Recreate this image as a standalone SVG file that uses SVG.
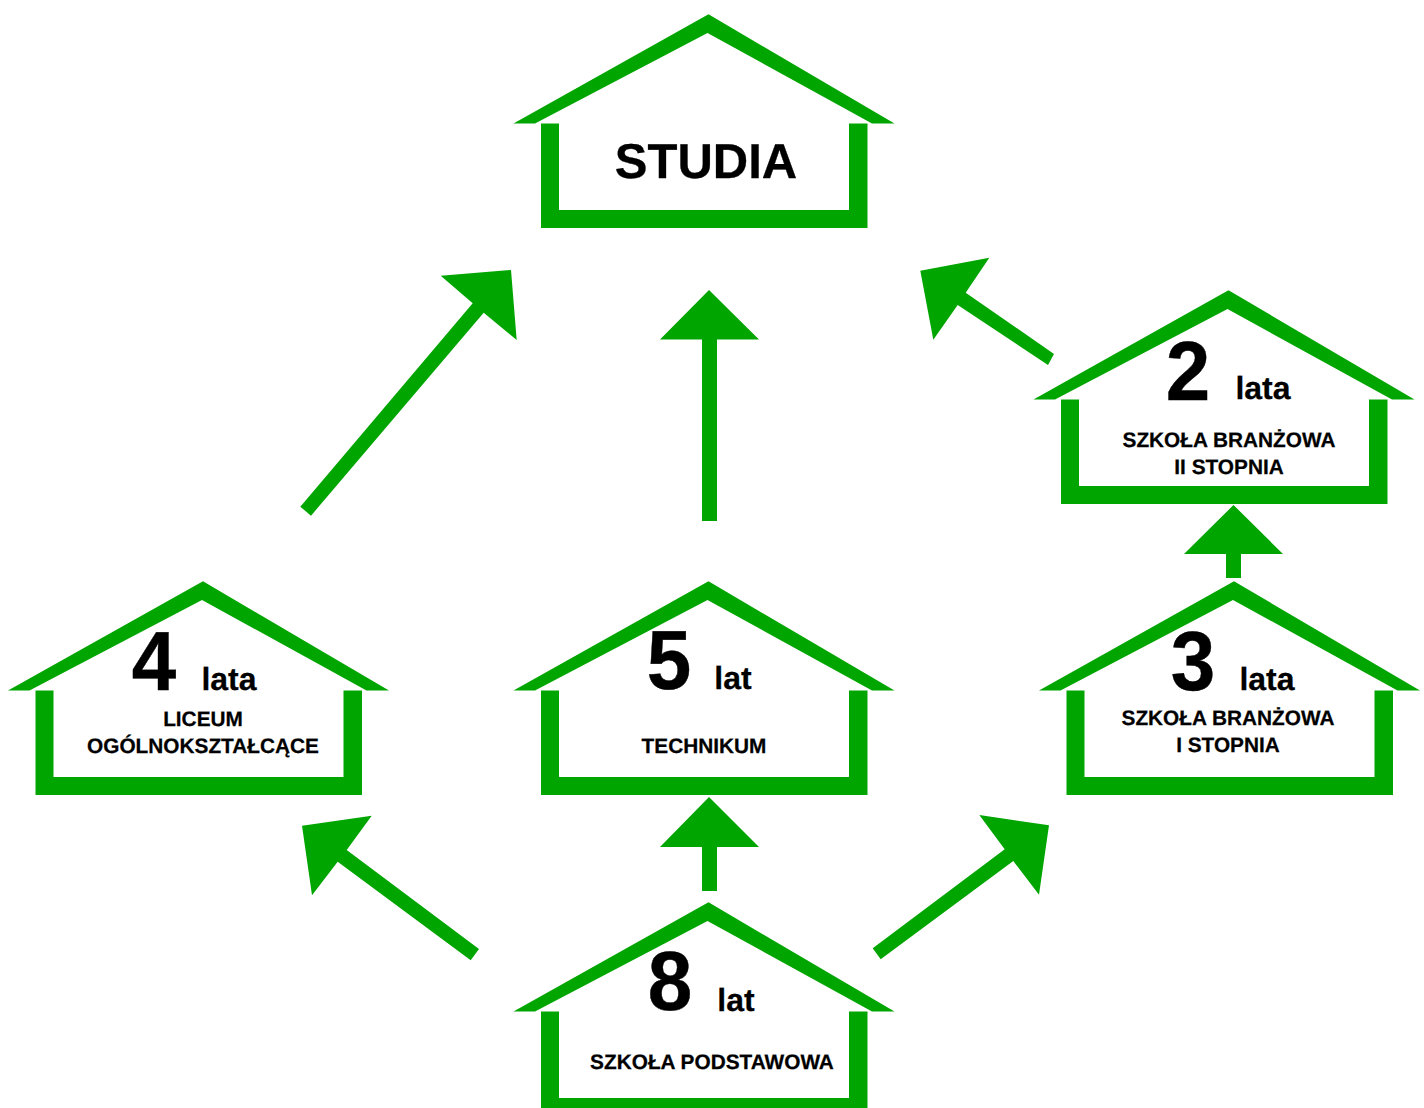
<svg xmlns="http://www.w3.org/2000/svg" width="1424" height="1108" viewBox="0 0 1424 1108">
<style>
.g{fill:#00a500}
text{font-family:"Liberation Sans",Arial,sans-serif;font-weight:700;fill:#000;text-anchor:middle;text-rendering:geometricPrecision}
.t{font-size:20.8px;stroke:#000;stroke-width:.25px}
.n{font-size:80px;stroke:#000;stroke-width:.4px}
.u{font-size:32px;stroke:#000;stroke-width:.25px}
</style>
<defs>
<g id="house">
<path class="g" d="M513.5 123.5L708.5 14.3L894.5 123.5H872L707.5 33L535 123.5Z"/>
<path class="g" d="M541 123.5H559V210H849V123.5H867.5V228H541Z"/>
</g>
</defs>
<rect width="1424" height="1108" fill="#fff"/>
<g id="connectors">
<polygon class="g" points="511,270 516.7,340 483.7,312.7 311,515.7 300.3,506.7 472.7,303.3 440.7,275.7"/>
<polygon class="g" points="709,290 759,339.5 717,339.5 717,521 702,521 702,339.5 660,339.5"/>
<polygon class="g" points="920.3,270.7 989.3,257.7 965.7,292.7 1054,354 1048,365 957.7,305 933.3,339.7"/>
<polygon class="g" points="1233.5,505 1283,554 1241,554 1241,578 1226,578 1226,554 1184,554"/>
<polygon class="g" points="709,797 759,847 717,847 717,891 702,891 702,847 660,847"/>
<polygon class="g" points="302,825.7 371.7,815.7 346.7,850 479,949 470.7,960.3 337.7,861.7 312,895.3"/>
<polygon class="g" points="1049,825.3 1039,894.7 1013.3,861 880.7,959.3 872.7,948.3 1004.7,849.3 979.3,815"/>
</g>
<g id="node-studia"><use href="#house"/><text x="706" y="178" font-size="49" stroke="#000" stroke-width=".3">STUDIA</text></g>
<g id="node-branzowa-2"><use href="#house" x="520" y="276"/><text class="n" transform="translate(1188 400) scale(1 1.05)">2</text><text class="u" x="1263" y="399.3">lata</text><text class="t" x="1229" y="447">SZKOŁA BRANŻOWA</text><text class="t" x="1229" y="474">II STOPNIA</text></g>
<g id="node-liceum"><use href="#house" x="-505.5" y="567"/><text class="n" transform="translate(154 690) scale(1 1.05)">4</text><text class="u" x="229" y="690.3">lata</text><text class="t" x="203" y="726">LICEUM</text><text class="t" x="203" y="753">OGÓLNOKSZTAŁCĄCE</text></g>
<g id="node-technikum"><use href="#house" y="567"/><text class="n" transform="translate(669 689) scale(1 1.05)">5</text><text class="u" x="733" y="689.3">lat</text><text class="t" x="704" y="753">TECHNIKUM</text></g>
<g id="node-branzowa-1"><use href="#house" x="525.5" y="567"/><text class="n" transform="translate(1193 690) scale(1 1.05)">3</text><text class="u" x="1267" y="690.3">lata</text><text class="t" x="1228" y="725">SZKOŁA BRANŻOWA</text><text class="t" x="1228" y="752">I STOPNIA</text></g>
<g id="node-podstawowa"><use href="#house" y="888"/><text class="n" transform="translate(670 1010) scale(1 1.05)">8</text><text class="u" x="736" y="1011.3">lat</text><text class="t" x="712" y="1069">SZKOŁA PODSTAWOWA</text></g>
</svg>
